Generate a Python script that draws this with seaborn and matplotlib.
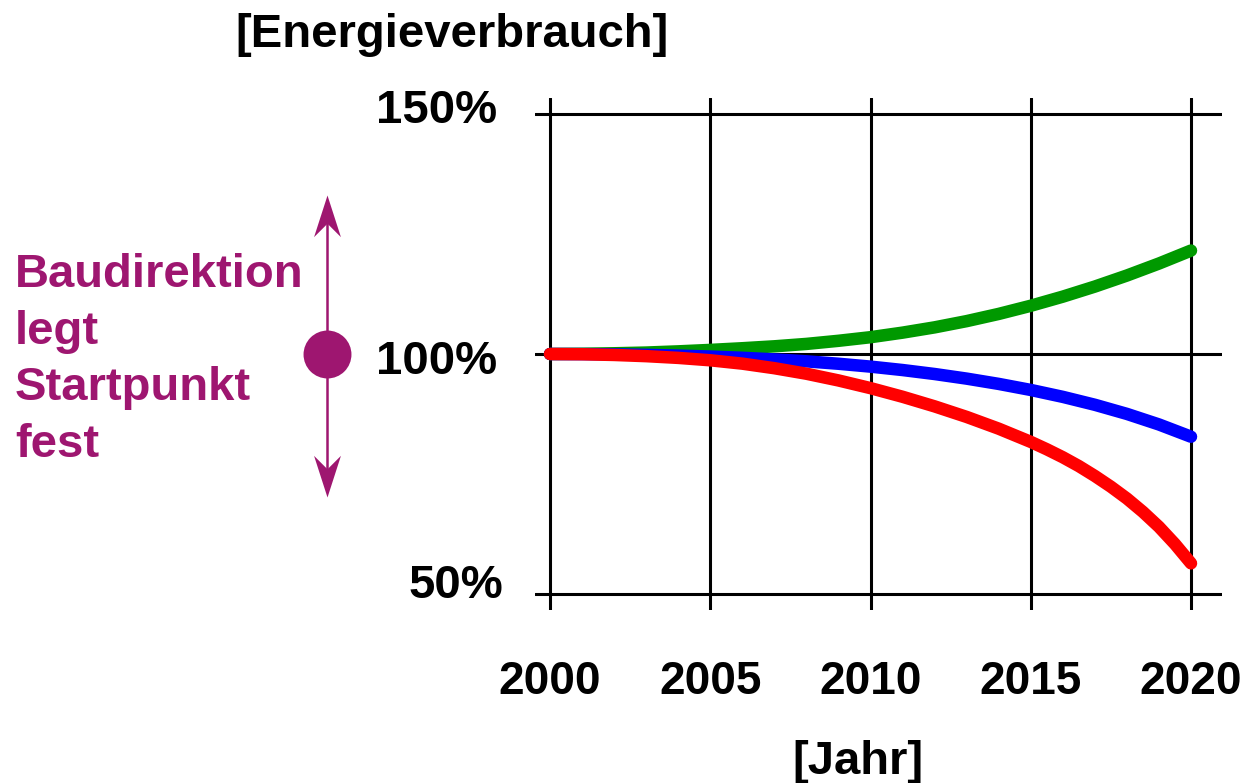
import numpy as np
import pandas as pd
import matplotlib
matplotlib.use("Agg")
import matplotlib.pyplot as plt
import matplotlib.transforms as mtransforms
from matplotlib.path import Path
import seaborn as sns

# -----------------------------
#    Daten
# -----------------------------
jahre = list(range(2000, 2021))
gruen = [100, 100.05, 100.15, 100.3, 100.55, 100.85, 101.2, 101.6, 102.1, 102.75, 103.5,
         104.45, 105.55, 106.85, 108.35, 110.05, 111.95, 114.05, 116.35, 118.85, 121.55]
blau = [100, 99.98, 99.92, 99.82, 99.67, 99.47, 99.21, 98.88, 98.47, 97.97, 97.37,
        96.66, 95.83, 94.87, 93.77, 92.51, 91.07, 89.42, 87.52, 85.32, 82.77]
jahre_rot = list(range(2000, 2015)) + [2015, 2015.5, 2016, 2016.5, 2017, 2017.5,
                                       2018, 2018.5, 2019, 2019.5, 2020]
rot = [100, 99.95, 99.8, 99.55, 99.19, 98.69, 97.99, 97.04, 95.89, 94.49, 92.89,
       91.09, 89.09, 86.89, 84.44, 81.69, 80.15, 78.49, 76.65, 74.59, 72.35,
       69.89, 67.1, 63.99, 60.4, 56.39]

x_ticks = [2000, 2005, 2010, 2015, 2020]
y_ticks = [50, 100, 150]
y_labels = ["50%", "100%", "150%"]

farben = {"gruen": "#009900", "blau": "#0000FF", "rot": "#FF0000"}
lila = "#9E1670"

df = pd.DataFrame({
    "Jahr": jahre + jahre + jahre_rot,
    "Wert": gruen + blau + rot,
    "Serie": ["gruen"] * len(jahre) + ["blau"] * len(jahre) + ["rot"] * len(jahre_rot),
})

sns.set_style("white")
plt.rcParams["font.family"] = ["Liberation Sans", "DejaVu Sans"]
plt.rcParams["font.weight"] = "bold"
plt.rcParams["text.color"] = "black"
plt.rcParams["axes.labelcolor"] = "black"
plt.rcParams["xtick.color"] = "black"
plt.rcParams["ytick.color"] = "black"

fig = plt.figure(figsize=(12.46, 7.83), dpi=100)
W, H = 1246, 783
ax = fig.add_axes([535 / W, 1 - 610 / H, (1222 - 535) / W, (610 - 98) / H])

sns.lineplot(data=df, x="Jahr", y="Wert", hue="Serie", hue_order=["gruen", "blau", "rot"],
             palette=farben, linewidth=9, legend=False, ax=ax,
             solid_capstyle="round", solid_joinstyle="round")

# Achsen
px_jahr = (1191 - 550) / 20
px_proz = (594 - 114) / 100
ax.set_xlim(2000 - 15 / px_jahr, 2020 + 31 / px_jahr)
ax.set_ylim(50 - 16 / px_proz, 150 + 16 / px_proz)
ax.set_xticks(x_ticks)
ax.set_xticklabels([str(j) for j in x_ticks])
ax.set_yticks(y_ticks)
ax.set_yticklabels(y_labels)
ax.tick_params(axis="x", length=0, labelsize=33, pad=36)
ax.tick_params(axis="y", length=0, labelsize=34, pad=27)
for s in ax.spines.values():
    s.set_visible(False)
ax.grid(True, color="black", lw=2.2)
ax.set_axisbelow(True)

# kleine Verschiebungen der y-Beschriftungen wie im Original (in Punkt)
for lab, (dx, dy) in zip(ax.get_yticklabels(), [(4, 9), (0, -2), (0, 6)]):
    lab.set_transform(lab.get_transform() + mtransforms.ScaledTranslation(dx / 72, dy / 72, fig.dpi_scale_trans))

ax.set_xlabel("[Jahr]", fontsize=34, fontweight="bold")
ax.xaxis.set_label_coords((858 - 535) / 687, -(762 - 610) / 512)
ax.xaxis.label.set_va("center")
ax.set_ylabel("[Energieverbrauch]", fontsize=34, fontweight="bold", rotation=0)
ax.yaxis.set_label_coords((452 - 535) / 687, 1 + (98 - 35) / 512)
ax.yaxis.label.set_va("center")
ax.yaxis.label.set_ha("center")

# -----------------------------
#   Startpunkt-Markierung
# -----------------------------
trans = mtransforms.blended_transform_factory(fig.transFigure, ax.transData)
xm = 327 / W
spitze_oben = Path([(0, 0), (-0.5, -1.55), (0, -1.05), (0.5, -1.55), (0, 0)],
                   [Path.MOVETO, Path.LINETO, Path.LINETO, Path.LINETO, Path.CLOSEPOLY])
spitze_unten = Path([(0, 0), (-0.5, 1.55), (0, 1.05), (0.5, 1.55), (0, 0)],
                    [Path.MOVETO, Path.LINETO, Path.LINETO, Path.LINETO, Path.CLOSEPOLY])
ax.plot([xm, xm], [71.5, 131.5], color=lila, lw=1.8, transform=trans, clip_on=False)
ax.plot([xm], [133.1], marker=spitze_oben, ms=60, color=lila, mew=0,
        transform=trans, clip_on=False)
ax.plot([xm], [70.2], marker=spitze_unten, ms=60, color=lila, mew=0,
        transform=trans, clip_on=False)
ax.plot([xm], [100], "o", color=lila, ms=34.5, mew=0, transform=trans, clip_on=False, zorder=5)

fig.text(15 / W, 1 - 457 / H, "Baudirektion\nlegt\nStartpunkt\nfest", color=lila,
         fontsize=34, fontweight="bold", ha="left", va="baseline", linespacing=1.37)

fig.savefig("out.png", dpi=100)
